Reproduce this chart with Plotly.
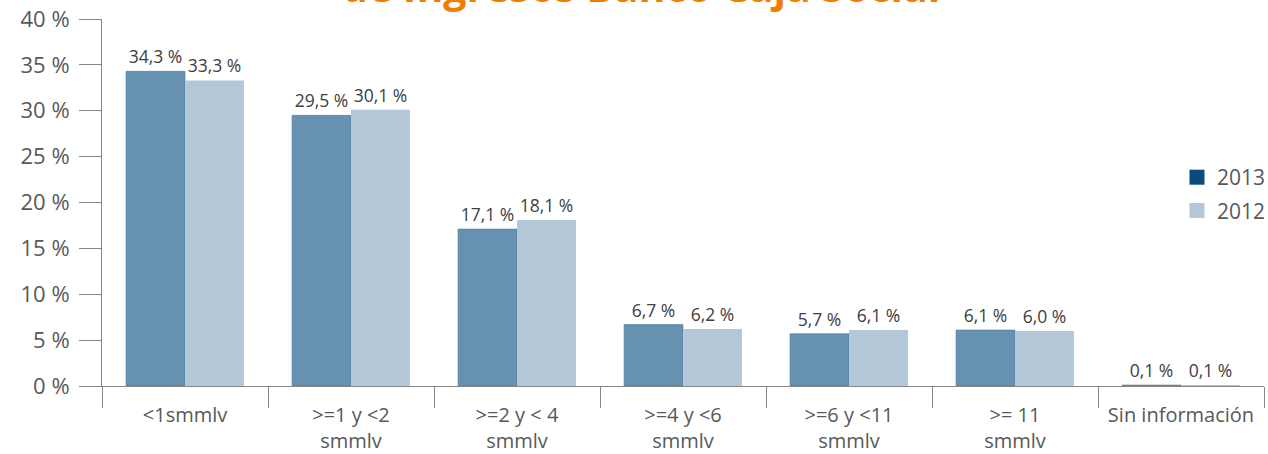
import plotly.graph_objects as go

# Income brackets (minimum monthly legal wages) and share of clients per year
categories = ["<1smmlv", ">=1 y <2<br>smmlv", ">=2 y < 4<br>smmlv", ">=4 y <6<br>smmlv",
              ">=6 y <11<br>smmlv", ">= 11<br>smmlv", "Sin información"]
values_2013 = [34.3, 29.5, 17.1, 6.7, 5.7, 6.1, 0.1]
values_2012 = [33.3, 30.1, 18.1, 6.2, 6.1, 6.0, 0.1]
y_ticks = [0, 5, 10, 15, 20, 25, 30, 35, 40]
y_tick_labels = [f"{v} %" for v in y_ticks]

FONT = "Open Sans"
GRAY = "#595959"
AXIS = "#868686"
C2013_BAR = "#6691B1"
C2013 = "#0A4A80"
C2012 = "#B3C7D9"

fig = go.Figure()

fig.add_trace(go.Bar(
    x=categories, y=values_2013, name="2013", showlegend=False,
    marker=dict(color=C2013_BAR, line=dict(color="#4F7A9C", width=0.6)),
    texttemplate="%{y:.1f} %", textposition="outside",
    textfont=dict(family=FONT, size=17.5, color="#404040"), cliponaxis=False,
))
fig.add_trace(go.Bar(
    x=categories, y=values_2012, name="2012", showlegend=False,
    marker=dict(color=C2012, line=dict(width=0)),
    texttemplate="%{y:.1f} %", textposition="outside",
    textfont=dict(family=FONT, size=17.5, color="#404040"), cliponaxis=False,
))

# Legend entries as solid squares
for name, color in [("2013", C2013), ("2012", C2012)]:
    fig.add_trace(go.Scatter(
        x=[None], y=[None], mode="markers", name=name, legendgroup=name,
        marker=dict(symbol="square", size=15, color=color),
    ))

fig.update_layout(
    width=1268, height=454,
    margin=dict(l=102, r=4, t=19, b=68, autoexpand=False),
    paper_bgcolor="white", plot_bgcolor="white",
    separators=",.",
    barmode="group", bargap=0.29, bargroupgap=0,
    font=dict(family=FONT, color=GRAY),
    showlegend=True,
    legend=dict(
        x=1.006, xanchor="right", y=0.523, yanchor="middle",
        font=dict(family=FONT, size=21, color=GRAY),
        itemwidth=30, traceorder="grouped", tracegroupgap=3, bgcolor="rgba(0,0,0,0)",
    ),
    xaxis=dict(
        type="category", tickson="boundaries", ticks="outside", ticklen=21,
        ticklabelstandoff=11, automargin=False,
        tickcolor=AXIS, tickwidth=1, showline=True, linecolor=AXIS, linewidth=1,
        showgrid=False, tickfont=dict(family=FONT, size=20, color=GRAY),
    ),
    yaxis=dict(
        range=[0, 40], tickmode="array", tickvals=y_ticks, ticktext=y_tick_labels,
        ticks="outside", ticklen=22, ticklabelstandoff=5, automargin=False,
        tickcolor=AXIS, tickwidth=1, showline=True, linecolor=AXIS, linewidth=1,
        showgrid=False, zeroline=False, tickfont=dict(family=FONT, size=22, color=GRAY),
    ),
    annotations=[dict(
        text="<b>de Ingresos Banco Caja Social</b>", xref="paper", yref="paper",
        x=0.464, y=1.008, xanchor="center", yanchor="bottom", showarrow=False,
        font=dict(family=FONT, size=41, color="#F07D00"),
    )],
)

fig.write_html("out.html")
